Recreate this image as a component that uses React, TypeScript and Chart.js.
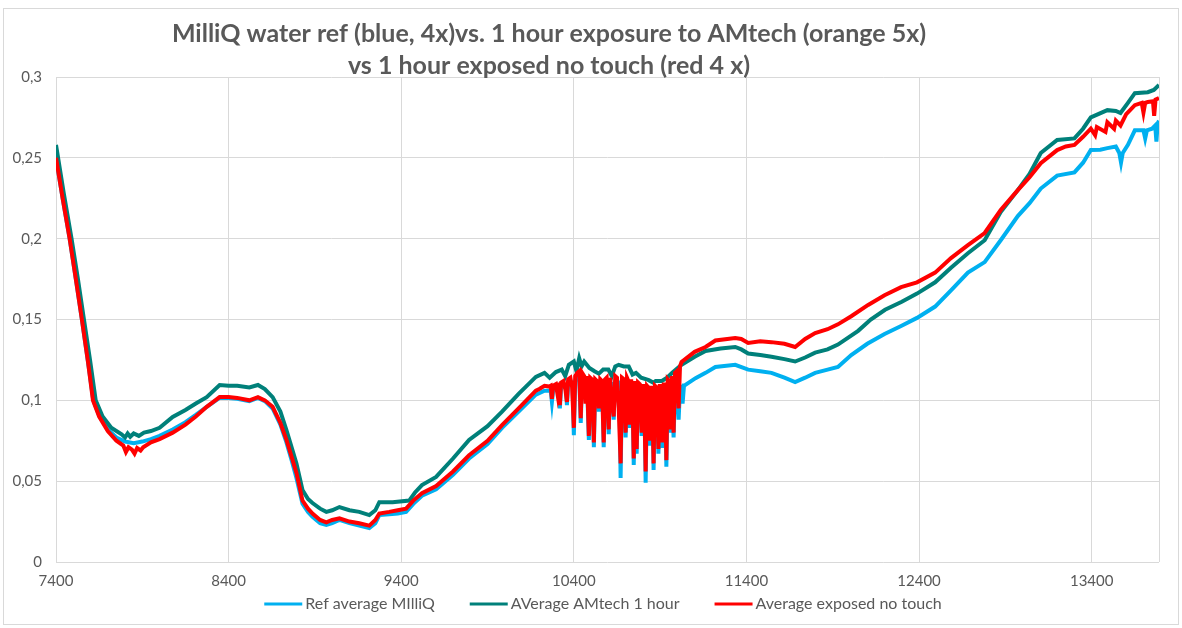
import { useEffect, useRef } from "react";
import { Chart, registerables } from "chart.js";

Chart.register(...registerables);

const TITLE_LINES = [
  "MilliQ water ref (blue, 4x)vs. 1 hour exposure to AMtech (orange 5x)",
  "vs 1 hour exposed no touch (red 4 x)",
];
const SERIES_LABELS = ["Ref average MIlliQ", "AVerage AMtech 1 hour", "Average exposed no touch"];
const SERIES_COLORS = ["#00B0F0", "#00807A", "#FF0000"];
const X_TICKS = [7400, 8400, 9400, 10400, 11400, 12400, 13400];
const X_MIN = 7400;
const X_MAX = 13790;
const Y_MIN = 0;
const Y_MAX = 0.3;
const Y_STEP = 0.05;

// [wavenumber, value]
const refData = [
  [7400, 0.25], [7440, 0.224], [7479, 0.2], [7515, 0.175], [7550, 0.15], [7585, 0.124], [7616, 0.1],
  [7650, 0.0905], [7700, 0.082], [7750, 0.077], [7800, 0.0745], [7850, 0.0735], [7900, 0.0745],
  [7950, 0.076], [8000, 0.078], [8076, 0.082], [8150, 0.0865], [8210, 0.091], [8273, 0.096],
  [8348, 0.1015], [8400, 0.1015], [8450, 0.101], [8520, 0.0995], [8570, 0.1015], [8610, 0.0995],
  [8655, 0.095], [8700, 0.085], [8735, 0.074], [8765, 0.063], [8793, 0.052], [8828, 0.036],
  [8860, 0.031], [8886, 0.028], [8930, 0.024], [8966, 0.023], [9000, 0.024], [9042, 0.026],
  [9100, 0.024], [9157, 0.0225], [9215, 0.021], [9250, 0.024], [9273, 0.029], [9330, 0.0295],
  [9380, 0.03], [9428, 0.031], [9470, 0.036], [9520, 0.041], [9602, 0.045], [9700, 0.054],
  [9793, 0.064], [9900, 0.073], [9984, 0.083], [10080, 0.093], [10180, 0.1035],
  [10230, 0.106], [10266, 0.106], [10273, 0.099], [10280, 0.106], [10312, 0.108], [10319, 0.095],
  [10326, 0.108], [10353, 0.109], [10360, 0.097], [10367, 0.11], [10392, 0.111], [10400, 0.0785],
  [10408, 0.112], [10431, 0.115], [10440, 0.086], [10448, 0.114], [10476, 0.112], [10487, 0.0755],
  [10495, 0.111], [10508, 0.11], [10516, 0.071], [10524, 0.11], [10537, 0.109], [10545, 0.093],
  [10553, 0.11], [10565, 0.11], [10573, 0.071], [10581, 0.11], [10594, 0.111], [10602, 0.079],
  [10610, 0.111], [10623, 0.11], [10631, 0.088], [10639, 0.111], [10663, 0.111], [10671, 0.052],
  [10679, 0.11], [10692, 0.11], [10700, 0.077], [10708, 0.11], [10716, 0.109], [10724, 0.083],
  [10732, 0.109], [10740, 0.108], [10747, 0.06], [10755, 0.108], [10764, 0.067], [10772, 0.108],
  [10785, 0.107], [10793, 0.078], [10801, 0.107], [10809, 0.106], [10816, 0.049], [10824, 0.106],
  [10832, 0.106], [10839, 0.072], [10847, 0.106], [10855, 0.105], [10862, 0.057], [10870, 0.105],
  [10882, 0.105], [10890, 0.067], [10898, 0.105], [10906, 0.105], [10913, 0.0705], [10921, 0.105],
  [10929, 0.105], [10936, 0.059], [10944, 0.105], [10952, 0.106], [10960, 0.08], [10968, 0.106],
  [10978, 0.077], [10986, 0.106], [10999, 0.107], [11007, 0.088], [11015, 0.107], [11024, 0.108],
  [11030, 0.098], [11038, 0.109], [11105, 0.1137], [11163, 0.117], [11220, 0.1206], [11335, 0.122],
  [11410, 0.119], [11480, 0.118], [11545, 0.117], [11620, 0.114], [11682, 0.1113], [11740, 0.114],
  [11798, 0.117], [11870, 0.119], [11930, 0.1206], [12007, 0.128], [12100, 0.135], [12200, 0.141],
  [12296, 0.146], [12388, 0.151], [12493, 0.158], [12585, 0.168], [12683, 0.179], [12780, 0.1855],
  [12873, 0.199], [12972, 0.214], [13040, 0.222], [13105, 0.231], [13200, 0.239], [13300, 0.241],
  [13350, 0.247], [13395, 0.2548], [13450, 0.255], [13491, 0.256], [13540, 0.257], [13560, 0.253],
  [13570, 0.247], [13580, 0.253], [13610, 0.258], [13650, 0.267], [13700, 0.267], [13710, 0.262],
  [13720, 0.267], [13750, 0.268], [13768, 0.27], [13775, 0.26], [13782, 0.271], [13790, 0.273],
];

const amtechData = [
  [7400, 0.258], [7445, 0.228], [7490, 0.2], [7527, 0.175], [7562, 0.15], [7597, 0.125], [7630, 0.1],
  [7670, 0.09], [7720, 0.083], [7780, 0.079], [7800, 0.077], [7815, 0.0795], [7830, 0.0775],
  [7850, 0.0795], [7880, 0.078], [7910, 0.08], [7950, 0.081], [8000, 0.083], [8076, 0.0897],
  [8150, 0.094], [8210, 0.098], [8273, 0.102], [8348, 0.1095], [8400, 0.109], [8450, 0.109],
  [8520, 0.108], [8570, 0.1095], [8610, 0.107], [8655, 0.102], [8700, 0.093], [8735, 0.0816],
  [8765, 0.071], [8793, 0.061], [8828, 0.0445], [8860, 0.039], [8886, 0.0365], [8930, 0.033],
  [8966, 0.031], [9000, 0.032], [9042, 0.034], [9100, 0.032], [9157, 0.031], [9215, 0.029],
  [9250, 0.032], [9273, 0.037], [9350, 0.037], [9446, 0.038], [9480, 0.043], [9520, 0.0476],
  [9602, 0.0526], [9700, 0.064], [9793, 0.0755], [9900, 0.084], [9984, 0.093], [10080, 0.104],
  [10180, 0.1145], [10230, 0.117], [10260, 0.114], [10296, 0.1175], [10330, 0.119], [10350, 0.115],
  [10371, 0.122], [10400, 0.124], [10415, 0.118], [10431, 0.126], [10445, 0.121], [10460, 0.124],
  [10490, 0.12], [10520, 0.118], [10545, 0.1165], [10570, 0.119], [10600, 0.119], [10620, 0.115],
  [10640, 0.121], [10660, 0.122], [10690, 0.121], [10718, 0.121], [10740, 0.116], [10760, 0.117],
  [10790, 0.114], [10834, 0.1125], [10860, 0.111], [10874, 0.112], [10910, 0.112], [10940, 0.114],
  [10970, 0.117], [11007, 0.1205], [11024, 0.122], [11100, 0.127], [11163, 0.1305], [11250, 0.132],
  [11335, 0.133], [11370, 0.1315], [11410, 0.129], [11480, 0.128], [11545, 0.127], [11620, 0.1255],
  [11682, 0.124], [11740, 0.1265], [11798, 0.1295], [11870, 0.1315], [11930, 0.1345], [12047, 0.143],
  [12120, 0.15], [12203, 0.156], [12300, 0.161], [12388, 0.166], [12493, 0.173], [12585, 0.182],
  [12683, 0.191], [12780, 0.199], [12873, 0.2165], [12972, 0.23], [13040, 0.24], [13105, 0.253],
  [13200, 0.261], [13300, 0.262], [13350, 0.268], [13395, 0.275], [13491, 0.2795], [13540, 0.279],
  [13567, 0.2777], [13610, 0.284], [13650, 0.29], [13725, 0.2906], [13760, 0.292], [13790, 0.295],
];

const noTouchData = [
  [7400, 0.25], [7440, 0.224], [7479, 0.2], [7515, 0.175], [7550, 0.15], [7585, 0.124], [7614, 0.1],
  [7650, 0.09], [7700, 0.081], [7750, 0.075], [7790, 0.072], [7805, 0.068], [7820, 0.071],
  [7840, 0.0695], [7855, 0.067], [7870, 0.0705], [7890, 0.069], [7905, 0.071], [7950, 0.074],
  [8000, 0.076], [8076, 0.08], [8150, 0.085], [8210, 0.09], [8273, 0.096], [8348, 0.102],
  [8400, 0.102], [8450, 0.1015], [8520, 0.1], [8570, 0.102], [8610, 0.1], [8655, 0.096],
  [8700, 0.086], [8735, 0.0755], [8765, 0.065], [8793, 0.055], [8828, 0.038], [8860, 0.033],
  [8886, 0.03], [8930, 0.026], [8966, 0.0245], [9000, 0.026], [9042, 0.027], [9100, 0.025],
  [9157, 0.024], [9215, 0.0225], [9250, 0.026], [9273, 0.03], [9330, 0.031], [9380, 0.032],
  [9428, 0.033], [9470, 0.038], [9520, 0.0425], [9602, 0.047], [9700, 0.056], [9793, 0.066],
  [9900, 0.075], [9984, 0.0847], [10080, 0.095], [10180, 0.106],
  [10200, 0.107], [10230, 0.109], [10258, 0.1085], [10266, 0.109], [10273, 0.101], [10280, 0.109],
  [10296, 0.11], [10305, 0.104], [10312, 0.111], [10319, 0.097], [10326, 0.111], [10340, 0.112],
  [10352, 0.106], [10360, 0.099], [10367, 0.113], [10380, 0.114], [10390, 0.108], [10400, 0.083],
  [10408, 0.115], [10420, 0.117], [10431, 0.118], [10440, 0.089], [10448, 0.117], [10460, 0.115],
  [10468, 0.098], [10476, 0.115], [10487, 0.078], [10495, 0.114], [10505, 0.113], [10516, 0.074],
  [10524, 0.113], [10533, 0.112], [10545, 0.095], [10553, 0.113], [10562, 0.112], [10573, 0.074],
  [10581, 0.113], [10590, 0.114], [10602, 0.082], [10610, 0.114], [10620, 0.1], [10631, 0.09],
  [10640, 0.115], [10650, 0.114], [10660, 0.095], [10671, 0.061], [10679, 0.114], [10690, 0.113],
  [10700, 0.08], [10708, 0.114], [10716, 0.112], [10724, 0.085], [10732, 0.113], [10740, 0.1],
  [10747, 0.064], [10755, 0.112], [10764, 0.07], [10772, 0.111], [10782, 0.11], [10793, 0.08],
  [10801, 0.11], [10808, 0.098], [10816, 0.056], [10824, 0.109], [10832, 0.108], [10839, 0.075],
  [10847, 0.109], [10855, 0.095], [10862, 0.061], [10870, 0.109], [10880, 0.108], [10890, 0.07],
  [10898, 0.11], [10906, 0.1], [10913, 0.074], [10921, 0.111], [10929, 0.105], [10936, 0.063],
  [10944, 0.113], [10952, 0.112], [10960, 0.082], [10968, 0.115], [10978, 0.08], [10986, 0.117],
  [10996, 0.118], [11007, 0.095], [11015, 0.121], [11024, 0.1237],
  [11100, 0.13], [11163, 0.133], [11220, 0.137], [11335, 0.1385], [11370, 0.138], [11410, 0.1355],
  [11480, 0.1365], [11545, 0.136], [11620, 0.135], [11682, 0.133], [11740, 0.138], [11798, 0.1416],
  [11870, 0.144], [11930, 0.147], [12007, 0.152], [12105, 0.159], [12200, 0.165], [12296, 0.17],
  [12388, 0.173], [12493, 0.179], [12585, 0.188], [12683, 0.196], [12780, 0.2035], [12873, 0.2177],
  [12972, 0.23], [13040, 0.238], [13105, 0.2467], [13200, 0.2548], [13250, 0.257], [13300, 0.258],
  [13350, 0.263], [13395, 0.268], [13420, 0.264], [13430, 0.269], [13480, 0.266], [13491, 0.272],
  [13530, 0.268], [13540, 0.273], [13567, 0.27], [13600, 0.277], [13650, 0.2826], [13690, 0.284],
  [13700, 0.278], [13710, 0.284], [13725, 0.2845], [13755, 0.285], [13762, 0.276], [13770, 0.286],
  [13790, 0.287],
];

const SERIES_DATA = [refData, amtechData, noTouchData];

const FONT = "Lato, 'Open Sans', sans-serif";
const TEXT_COLOR = "#595959";
const GRID_COLOR = "#d9d9d9";

const CANVAS_W = 1174;
const CANVAS_H = 615;

const decorPlugin = {
  id: "decor",
  beforeDatasetsDraw(chart: any) {
    const { ctx, chartArea } = chart;
    ctx.save();
    ctx.strokeStyle = GRID_COLOR;
    ctx.lineWidth = 1;
    ctx.beginPath();
    const rx = Math.round(chartArea.right) + 0.5;
    ctx.moveTo(rx, chartArea.top);
    ctx.lineTo(rx, chartArea.bottom);
    ctx.stroke();
    ctx.restore();
  },
  afterDraw(chart: any) {
    const { ctx } = chart;
    ctx.save();
    // title
    ctx.fillStyle = TEXT_COLOR;
    ctx.font = `bold 25px ${FONT}`;
    ctx.textAlign = "center";
    ctx.textBaseline = "middle";
    ctx.fillText(TITLE_LINES[0], 545, 25);
    ctx.fillText(TITLE_LINES[1], 545, 57);
    // legend
    ctx.font = `16px ${FONT}`;
    const lineLen = 38;
    const gapText = 3;
    const gapItem = 35;
    const widths = SERIES_LABELS.map((t) => ctx.measureText(t).width);
    const total = widths.reduce((a, w) => a + lineLen + gapText + w, 0) + gapItem * (SERIES_LABELS.length - 1);
    let x = 599 - total / 2;
    const y = 595;
    ctx.textAlign = "left";
    SERIES_LABELS.forEach((label, i) => {
      ctx.strokeStyle = SERIES_COLORS[i];
      ctx.lineWidth = 3;
      ctx.beginPath();
      ctx.moveTo(x, y);
      ctx.lineTo(x + lineLen, y);
      ctx.stroke();
      ctx.fillStyle = TEXT_COLOR;
      ctx.fillText(label, x + lineLen + gapText, y);
      x += lineLen + gapText + widths[i] + gapItem;
    });
    ctx.restore();
  },
};

export default function App() {
  const canvasRef = useRef<HTMLCanvasElement | null>(null);

  useEffect(() => {
    if (!canvasRef.current) return;
    const orders = [3, 2, 1];
    const chart = new Chart(canvasRef.current, {
      type: "line",
      data: {
        datasets: SERIES_DATA.map((pts, i) => ({
          label: SERIES_LABELS[i],
          data: pts.map(([x, y]) => ({ x, y })),
          borderColor: SERIES_COLORS[i],
          backgroundColor: SERIES_COLORS[i],
          borderWidth: 4,
          pointRadius: 0,
          tension: 0,
          order: orders[i],
        })),
      },
      options: {
        responsive: false,
        animation: false,
        layout: { padding: { top: 68, right: CANVAS_W - 1155, bottom: 0, left: 0 } },
        plugins: {
          legend: { display: false },
          title: { display: false },
          tooltip: { enabled: false },
        },
        scales: {
          x: {
            type: "linear",
            min: X_MIN,
            max: X_MAX,
            afterBuildTicks: (scale: any) => {
              scale.ticks = X_TICKS.map((v) => ({ value: v }));
            },
            afterFit: (scale: any) => {
              scale.height = CANVAS_H - 553;
            },
            grid: { color: GRID_COLOR, drawTicks: false },
            border: { display: false },
            ticks: {
              padding: 10,
              color: TEXT_COLOR,
              font: { family: FONT, size: 15 },
              maxRotation: 0,
              autoSkip: false,
              callback: (v: any) => String(v),
            },
          },
          y: {
            min: Y_MIN,
            max: Y_MAX,
            afterFit: (scale: any) => {
              scale.width = 52;
            },
            grid: { color: GRID_COLOR, drawTicks: false },
            border: { display: false },
            ticks: {
              stepSize: Y_STEP,
              padding: 14,
              color: TEXT_COLOR,
              font: { family: FONT, size: 15 },
              callback: (v: any) => String(Number(Number(v).toFixed(2))).replace(".", ","),
            },
          },
        },
      },
      plugins: [decorPlugin],
    });
    return () => chart.destroy();
  }, []);

  return (
    <div
      style={{
        position: "absolute",
        left: 3,
        top: 8,
        width: CANVAS_W + 2,
        height: CANVAS_H + 2,
        border: `1px solid ${GRID_COLOR}`,
        boxSizing: "border-box",
        background: "#fff",
      }}
    >
      <canvas ref={canvasRef} width={CANVAS_W} height={CANVAS_H} style={{ display: "block", width: CANVAS_W, height: CANVAS_H }} />
    </div>
  );
}
